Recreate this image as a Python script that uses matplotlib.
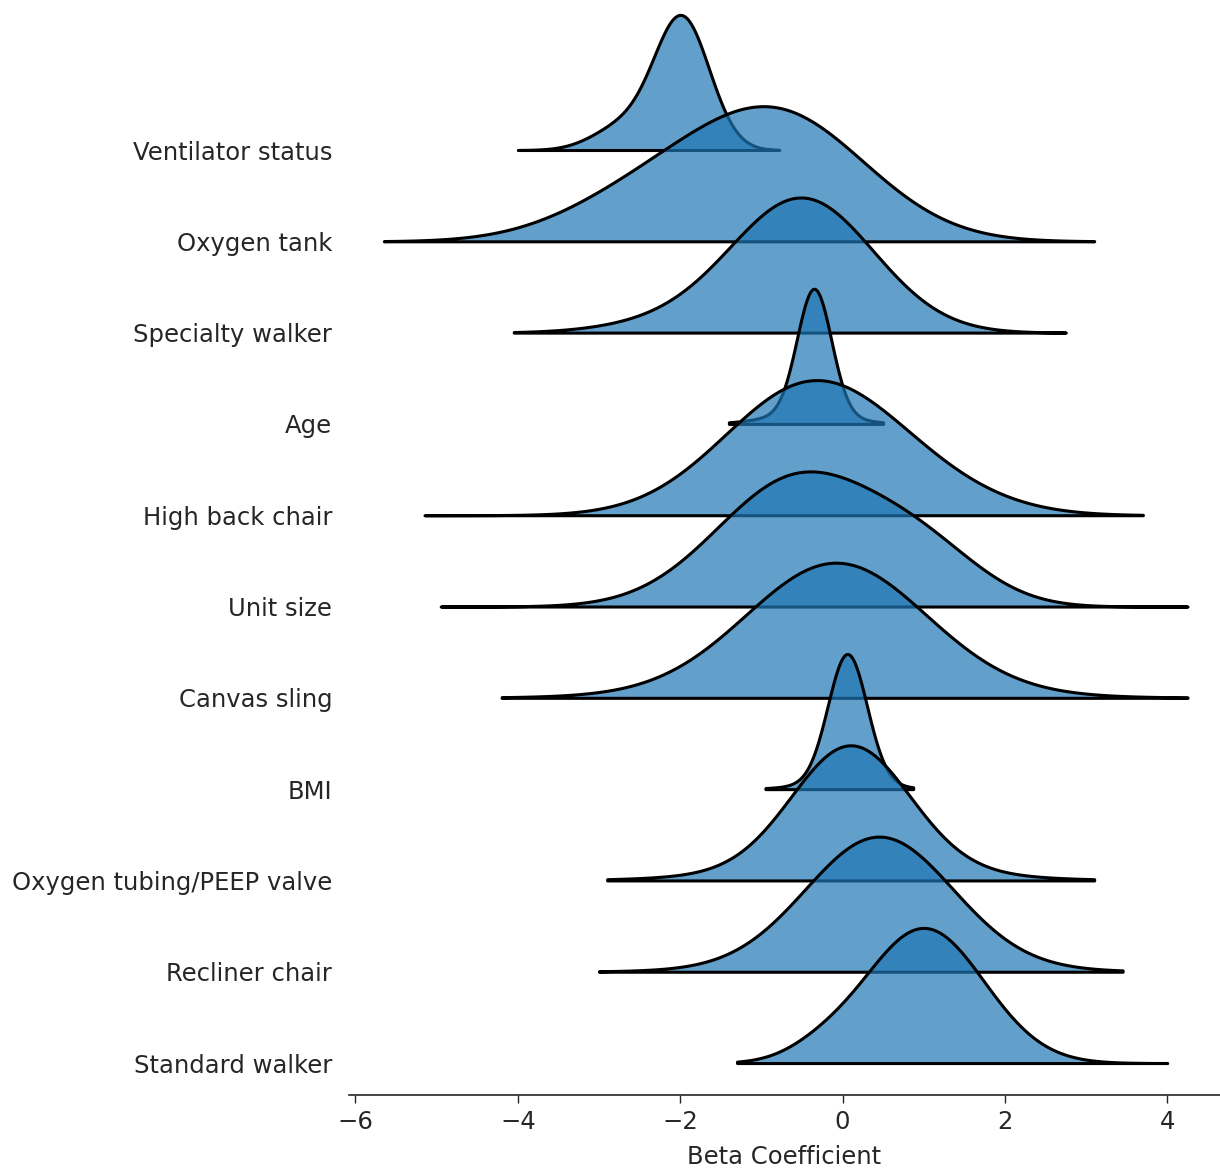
import numpy as np
import matplotlib
matplotlib.use("Agg")
from matplotlib import pyplot as plt

# ridges, top to bottom
labels = ['Ventilator status', 'Oxygen tank', 'Specialty walker', 'Age',
          'High back chair', 'Unit size', 'Canvas sling', 'BMI',
          'Oxygen tubing/PEEP valve', 'Recliner chair', 'Standard walker']

# span of each ridge's baseline
range_lo = [-4.0, -5.65, -4.05, -1.4, -5.15, -4.95, -4.2, -0.95, -2.9, -3.0, -1.3]
range_hi = [-0.78, 3.1, 2.75, 0.5, 3.7, 4.25, 4.25, 0.87, 3.1, 3.45, 4.0]

# main bump of each density
peak_loc = [-1.98, -0.8, -0.5, -0.35, -0.45, -0.55, -0.08, 0.06, 0.1, 0.45, 1.0]
peak_sd = [0.34, 1.1, 0.88, 0.21, 1.05, 1.0, 1.1, 0.24, 0.72, 0.9, 0.74]

# secondary bump (shoulders / heavier tails)
side_loc = [-2.7, -2.5, -2.2, -0.45, 0.8, 1.0, -0.1, 0.0, 0.1, 0.45, -0.3]
side_sd = [0.38, 1.0, 0.8, 0.5, 1.0, 0.75, 1.8, 0.5, 1.4, 1.5, 0.4]
side_amp = [0.18, 0.3, 0.06, 0.08, 0.2, 0.35, 0.06, 0.05, 0.1, 0.05, 0.06]

ridge_height = 1.48
fill_color = (0.122, 0.467, 0.706, 0.7)
font_size = 17.5

fig = plt.figure(figsize=(12.2, 11.69), dpi=100)
ax = fig.add_axes([349 / 1220, 74 / 1169, 871 / 1220, 1095 / 1169])

for i, name in enumerate(labels):
    x = np.linspace(range_lo[i], range_hi[i], 500)
    y = np.exp(-0.5 * ((x - peak_loc[i]) / peak_sd[i]) ** 2)
    y = y + side_amp[i] * np.exp(-0.5 * ((x - side_loc[i]) / side_sd[i]) ** 2)
    y = y / y.max() * ridge_height
    base = -i
    ax.fill_between(x, base, base + y, facecolor=fill_color, edgecolor='black',
                    linewidth=2.2, zorder=i + 1, clip_on=False)

ax.set_xlim(-6.08, 4.65)
ax.set_ylim(-10.35, 1.643)

ax.set_yticks([-i for i in range(len(labels))])
ax.set_yticklabels(labels, fontsize=font_size, color='#262626')
ax.tick_params(axis='y', length=0, pad=12)

ax.set_xticks([-6, -4, -2, 0, 2, 4])
ax.tick_params(axis='x', labelsize=font_size, length=6, width=1, pad=5, colors='#262626')
ax.set_xlabel('Beta Coefficient', fontsize=font_size, color='#262626', labelpad=8)

for side in ['top', 'right', 'left']:
    ax.spines[side].set_visible(False)
ax.spines['bottom'].set_linewidth(1.2)
ax.spines['bottom'].set_color('#262626')
ax.patch.set_alpha(0)

fig.savefig('out.png', dpi=100)
